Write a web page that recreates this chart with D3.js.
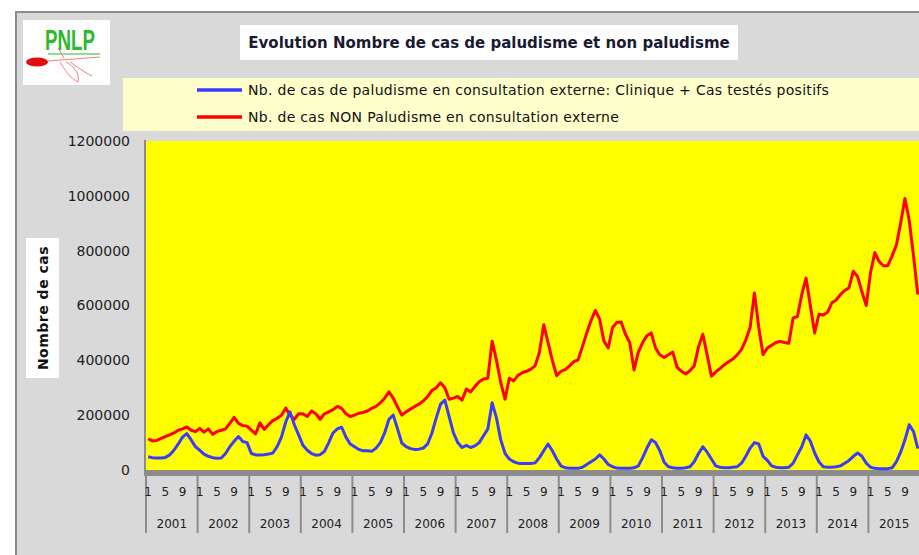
<!DOCTYPE html>
<html>
<head>
<meta charset="utf-8">
<script src="https://cdn.jsdelivr.net/npm/d3@7"></script>
<style>
  body { margin: 0; background: #fff; }
  svg { display: block; }
</style>
</head>
<body>
<div id="chart"></div>
<script>
// tick labels
var years = ["2001", "2002", "2003", "2004", "2005", "2006", "2007", "2008",
             "2009", "2010", "2011", "2012", "2013", "2014", "2015"];
var monthLabels = [1, 5, 9];
var yTicks = [0, 200000, 400000, 600000, 800000, 1000000, 1200000];

// Nb. de cas de paludisme (clinique + testés positifs), un mois par valeur
var paludisme = [
  48000, 45000, 44000, 44000, 46000, 55000, 72000, 95000, 120000, 133000, 110000, 85000,
  72000, 58000, 50000, 45000, 43000, 44000, 60000, 85000, 105000, 122000, 104000, 100000,
  60000, 55000, 55000, 56000, 58000, 62000, 85000, 120000, 175000, 212000, 165000, 128000,
  90000, 72000, 60000, 54000, 56000, 68000, 100000, 135000, 150000, 156000, 120000, 95000,
  85000, 75000, 70000, 70000, 68000, 80000, 100000, 135000, 185000, 200000, 150000, 98000,
  85000, 78000, 75000, 76000, 80000, 95000, 135000, 190000, 240000, 255000, 195000, 135000,
  100000, 82000, 90000, 82000, 88000, 100000, 125000, 150000, 245000, 190000, 110000, 60000,
  40000, 30000, 25000, 24000, 24000, 24000, 26000, 45000, 70000, 95000, 70000, 40000,
  15000, 8000, 6000, 6000, 6000, 10000, 20000, 30000, 40000, 55000, 40000, 20000,
  12000, 7000, 6000, 6000, 6000, 8000, 15000, 45000, 80000, 110000, 100000, 70000,
  28000, 12000, 8000, 6000, 6000, 8000, 12000, 30000, 60000, 85000, 65000, 40000,
  15000, 10000, 8000, 8000, 10000, 12000, 25000, 50000, 80000, 100000, 95000, 50000,
  35000, 15000, 10000, 8000, 8000, 10000, 25000, 55000, 85000, 128000, 105000, 62000,
  30000, 12000, 10000, 10000, 12000, 15000, 25000, 35000, 50000, 62000, 50000, 25000,
  10000, 6000, 5000, 5000, 5000, 8000, 30000, 65000, 110000, 165000, 140000, 78000
];

// Nb. de cas NON paludisme
var nonPaludisme = [
  114000, 106000, 108000, 115000, 122000, 128000, 135000, 145000, 150000, 157000, 145000, 140000,
  152000, 138000, 150000, 130000, 140000, 145000, 150000, 170000, 192000, 170000, 162000, 160000,
  145000, 132000, 172000, 148000, 165000, 180000, 188000, 200000, 226000, 200000, 185000, 205000,
  205000, 195000, 215000, 205000, 185000, 205000, 212000, 220000, 232000, 225000, 205000, 195000,
  200000, 207000, 210000, 215000, 225000, 232000, 245000, 262000, 285000, 262000, 230000, 200000,
  212000, 222000, 232000, 240000, 252000, 268000, 290000, 300000, 318000, 300000, 258000, 262000,
  268000, 255000, 295000, 285000, 305000, 322000, 332000, 335000, 470000, 400000, 320000, 258000,
  335000, 325000, 345000, 355000, 360000, 368000, 380000, 430000, 530000, 465000, 400000, 344000,
  360000, 366000, 380000, 395000, 402000, 450000, 500000, 545000, 582000, 550000, 470000, 445000,
  520000, 538000, 540000, 495000, 465000, 365000, 430000, 465000, 490000, 500000, 445000, 420000,
  410000, 420000, 430000, 375000, 360000, 350000, 362000, 380000, 450000, 495000, 420000, 342000,
  358000, 370000, 384000, 395000, 405000, 420000, 440000, 475000, 520000, 646000, 520000, 421000,
  445000, 455000, 465000, 469000, 465000, 462000, 555000, 560000, 640000, 700000, 600000, 500000,
  568000, 565000, 575000, 610000, 620000, 640000, 655000, 665000, 725000, 705000, 650000, 600000,
  720000, 793000, 760000, 745000, 745000, 780000, 820000, 900000, 990000, 910000, 780000, 640000
];

var width = 919, height = 555;
var plotLeft = 146, plotRight = 920, plotTop = 141, plotBottom = 470;

var svg = d3.select("#chart").append("svg")
    .attr("width", width)
    .attr("height", height);

// chart area background + frame
svg.append("rect")
    .attr("x", 16).attr("y", 12)
    .attr("width", 1000).attr("height", 600)
    .attr("fill", "#d9d9d9")
    .attr("stroke", "#8c8c8c")
    .attr("stroke-width", 2);

// logo PNLP
var logo = svg.append("g");
logo.append("rect").attr("x", 23).attr("y", 20).attr("width", 87).attr("height", 65).attr("fill", "#fff");
logo.append("text")
    .attr("transform", "translate(70,50) scale(0.85,1.3)")
    .attr("text-anchor", "middle")
    .style("font-family", "Liberation Sans Narrow, Liberation Sans, sans-serif")
    .style("font-weight", "bold")
    .style("font-size", "22px")
    .attr("fill", "#2db82d")
    .text("PNLP");
logo.append("line").attr("x1", 48).attr("y1", 54).attr("x2", 100).attr("y2", 54)
    .attr("stroke", "#6fcf6f").attr("stroke-width", 1.5);
logo.append("ellipse").attr("cx", 37).attr("cy", 62).attr("rx", 11).attr("ry", 4.5).attr("fill", "#e01010");
logo.append("path")
    .attr("d", "M48,61 L100,57 M60,62 C65,70 70,78 78,82 C80,74 74,66 66,62 M70,62 C76,66 84,72 92,76 M64,58 L58,48")
    .attr("fill", "none").attr("stroke", "#f08080").attr("stroke-width", 1);

// title
svg.append("rect").attr("x", 240).attr("y", 25).attr("width", 498).attr("height", 35).attr("fill", "#fff");
svg.append("text")
    .attr("x", 489).attr("y", 48)
    .attr("text-anchor", "middle")
    .style("font-family", "DejaVu Sans, sans-serif")
    .style("font-weight", "bold")
    .style("font-size", "15px")
    .attr("fill", "#1a1a33")
    .text("Evolution Nombre de cas de paludisme et non paludisme");

// legend
var legendItems = [
  { label: "Nb. de cas de paludisme en consultation externe: Clinique + Cas testés  positifs", color: "#3b3bff" },
  { label: "Nb. de cas NON Paludisme en consultation externe", color: "#ff0000" }
];
svg.append("rect").attr("x", 123).attr("y", 78).attr("width", 820).attr("height", 53).attr("fill", "#ffffcc");
var leg = svg.selectAll(".leg")
    .data(legendItems)
    .enter().append("g")
    .attr("transform", function (d, i) { return "translate(0," + (90 + i * 27) + ")"; });
leg.append("line")
    .attr("x1", 197).attr("x2", 242)
    .attr("stroke", function (d) { return d.color; })
    .attr("stroke-width", 3.5);
leg.append("text")
    .attr("x", 248).attr("y", 5)
    .style("font-family", "DejaVu Sans, sans-serif")
    .style("font-size", "14px")
    .style("letter-spacing", "0.3px")
    .attr("fill", "#111")
    .text(function (d) { return d.label; });

// scales
var months = d3.range(years.length * 12);
var x = d3.scaleBand().domain(months).range([plotLeft, plotRight]);
var xc = function (i) { return x(i) + x.bandwidth() / 2; };
var y = d3.scaleLinear().domain([0, 1200000]).range([plotBottom, plotTop]);

// plot area
svg.append("rect")
    .attr("x", plotLeft).attr("y", plotTop)
    .attr("width", plotRight - plotLeft).attr("height", plotBottom - plotTop)
    .attr("fill", "#ffff00");

// y axis
var yAxis = svg.append("g")
    .attr("transform", "translate(" + (plotLeft - 1) + ",0)")
    .call(d3.axisLeft(y).tickValues(yTicks).tickFormat(d3.format("d")).tickSize(0).tickPadding(15));
yAxis.select(".domain").attr("stroke", "#8c8c8c").attr("stroke-width", 2)
    .attr("d", "M0," + (plotTop - 1) + "V" + (plotBottom + 6));
yAxis.selectAll("text")
    .style("font-family", "DejaVu Sans, sans-serif")
    .style("font-size", "14px")
    .attr("fill", "#222");

// y title
svg.append("rect").attr("x", 26).attr("y", 238).attr("width", 33).attr("height", 140).attr("fill", "#fff");
svg.append("text")
    .attr("transform", "translate(48,308) rotate(-90)")
    .attr("text-anchor", "middle")
    .style("font-family", "DejaVu Sans, sans-serif")
    .style("font-weight", "bold")
    .style("font-size", "14px")
    .style("letter-spacing", "0.5px")
    .attr("fill", "#111")
    .text("Nombre de cas");

// x axis (category axis: months, grouped by year)
svg.append("rect")
    .attr("x", plotLeft).attr("y", plotBottom)
    .attr("width", plotRight - plotLeft).attr("height", 6)
    .attr("fill", "#8c8c8c");

var xAxis = svg.append("g");
xAxis.selectAll(".sep")
    .data(d3.range(years.length + 1))
    .enter().append("line")
    .attr("x1", function (j) { return j < years.length ? x(j * 12) : plotRight; })
    .attr("x2", function (j) { return j < years.length ? x(j * 12) : plotRight; })
    .attr("y1", plotBottom).attr("y2", 533)
    .attr("stroke", "#8c8c8c").attr("stroke-width", 2);

var monthTicks = [];
years.forEach(function (yr, j) {
  monthLabels.forEach(function (m) { monthTicks.push({ i: j * 12 + m - 1, label: m }); });
});
xAxis.selectAll(".mlab")
    .data(monthTicks)
    .enter().append("text")
    .attr("x", function (d) { return xc(d.i); })
    .attr("y", 496)
    .attr("text-anchor", "middle")
    .style("font-family", "DejaVu Sans, sans-serif")
    .style("font-size", "12px")
    .attr("fill", "#222")
    .text(function (d) { return d.label; });

xAxis.selectAll(".ylab")
    .data(years)
    .enter().append("text")
    .attr("x", function (d, j) { return x(j * 12) + 6 * x.bandwidth(); })
    .attr("y", 528)
    .attr("text-anchor", "middle")
    .style("font-family", "DejaVu Sans, sans-serif")
    .style("font-size", "12px")
    .attr("fill", "#222")
    .text(function (d) { return d; });

// lines
var line = d3.line()
    .x(function (d, i) { return xc(i); })
    .y(function (d) { return y(d); });

svg.append("path")
    .datum(nonPaludisme)
    .attr("d", line)
    .attr("fill", "none")
    .attr("stroke", "#ff0000")
    .attr("stroke-width", 3)
    .attr("stroke-linejoin", "round");

svg.append("path")
    .datum(paludisme)
    .attr("d", line)
    .attr("fill", "none")
    .attr("stroke", "#3b3bff")
    .attr("stroke-width", 3)
    .attr("stroke-linejoin", "round");
</script>
</body>
</html>
